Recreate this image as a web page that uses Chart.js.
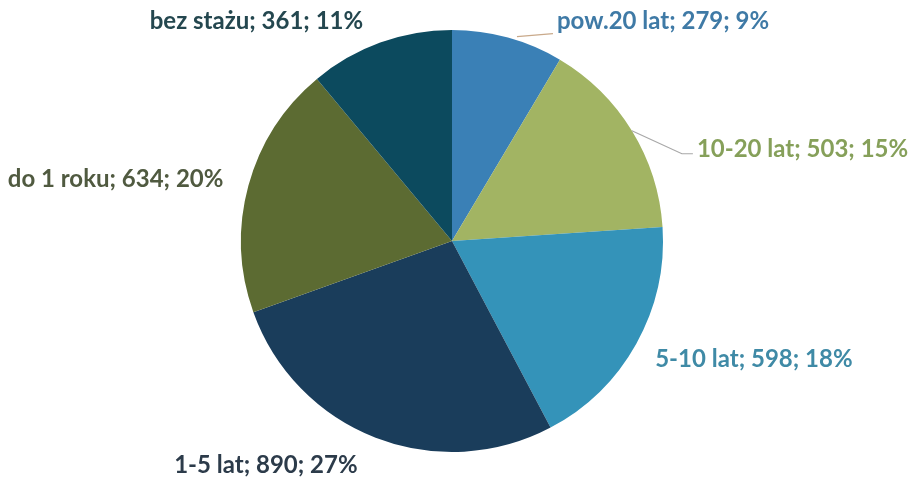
<!DOCTYPE html>
<html>
<head>
<meta charset="utf-8">
<script src="https://cdn.jsdelivr.net/npm/chart.js@4"></script>
<style>
  html, body { margin: 0; padding: 0; background: #ffffff; }
  #wrap { width: 910px; height: 479px; position: relative; }
</style>
</head>
<body>
<div id="wrap"><canvas id="staz-chart" width="910" height="479"></canvas></div>
<script>
// dane (kolejnosc zgodna z ruchem wskazowek zegara od godz. 12)
const categories = ['pow.20 lat', '10-20 lat', '5-10 lat', '1-5 lat', 'do 1 roku', 'bez stażu'];
const counts = [279, 503, 598, 890, 634, 361];
const percents = [9, 15, 18, 27, 20, 11];

const sliceColors = ['#3a80b6', '#a2b463', '#3493b9', '#1a3d5b', '#5c6b32', '#0c4a5e'];
const textColors = ['#3f7aa6', '#86a05a', '#3f8aa6', '#2c3b4a', '#505a40', '#24474f'];

// przesuniecia etykiet wzgledem srodka luku na krawedzi kola
const labelLayout = [
    { dx: 49, dy: -16, align: 'left', leader: [[9, -1], [45, -4]] },
    { dx: 65, dy: 19, align: 'left', leader: [[0, 0], [50, 23], [61, 23]] },
    { dx: 19, dy: 15, align: 'left' },
    { dx: -18, dy: 28, align: 'right' },
    { dx: -25, dy: -6, align: 'right' },
    { dx: -17, dy: -21, align: 'right' }
];

const labelPlugin = {
    id: 'pieLabels',
    afterDatasetsDraw(chart) {
        const ctx = chart.ctx;
        const meta = chart.getDatasetMeta(0);
        ctx.save();
        ctx.font = 'bold 24px Lato, "Open Sans", sans-serif';
        ctx.textBaseline = 'middle';
        meta.data.forEach((arc, i) => {
            const p = arc.getProps(['x', 'y', 'startAngle', 'endAngle', 'outerRadius'], true);
            const mid = (p.startAngle + p.endAngle) / 2;
            const ex = p.x + Math.cos(mid) * p.outerRadius;
            const ey = p.y + Math.sin(mid) * p.outerRadius;
            const lay = labelLayout[i];

            if (lay.leader) {
                ctx.beginPath();
                ctx.strokeStyle = i === 0 ? '#c9a98a' : '#a8a8a8';
                ctx.lineWidth = 1.2;
                lay.leader.forEach((pt, k) => {
                    if (k === 0) ctx.moveTo(ex + pt[0], ey + pt[1]);
                    else ctx.lineTo(ex + pt[0], ey + pt[1]);
                });
                ctx.stroke();
            }

            ctx.fillStyle = textColors[i];
            ctx.textAlign = lay.align;
            ctx.fillText(`${categories[i]}; ${counts[i]}; ${percents[i]}%`, ex + lay.dx, ey + lay.dy);
        });
        ctx.restore();
    }
};

new Chart(document.getElementById('staz-chart'), {
    type: 'pie',
    data: {
        labels: categories,
        datasets: [{
            data: counts,
            backgroundColor: sliceColors,
            borderWidth: 0
        }]
    },
    options: {
        responsive: false,
        animation: false,
        layout: { padding: { top: 30, bottom: 27, left: 100, right: 106 } },
        plugins: {
            legend: { display: false },
            tooltip: { enabled: false }
        }
    },
    plugins: [labelPlugin]
});
</script>
</body>
</html>
